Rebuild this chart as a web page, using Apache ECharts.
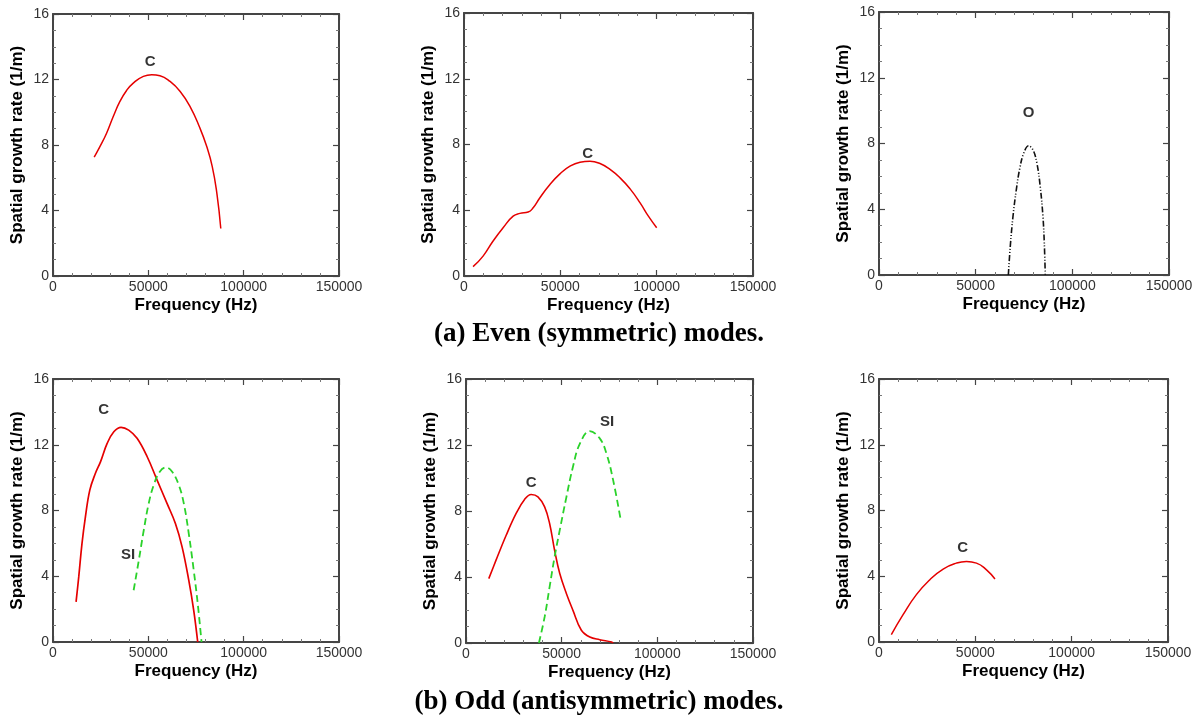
<!DOCTYPE html>
<html>
<head>
<meta charset="utf-8">
<script src="https://cdn.jsdelivr.net/npm/echarts@6/dist/echarts.min.js"></script>
<style>
html,body{margin:0;padding:0;background:#fff;}
#chart{width:1198px;height:719px;}
</style>
</head>
<body>
<div id="chart"></div>
<script>
// ---- axis settings (tick values) ----
const xTicks = [0, 50000, 100000, 150000];
const yTicks = [0, 4, 8, 12, 16];
const xAxisName = 'Frequency (Hz)';
const yAxisName = 'Spatial growth rate (1/m)';
const captionA = '(a) Even (symmetric) modes.';
const captionB = '(b) Odd (antisymmetric) modes.';

// ---- data: [frequency (Hz), spatial growth rate (1/m)] ----
// (a) Even modes, panel 1: C
const evenC1 = [[21600,7.26],[24600,7.9],[28100,8.72],[31600,9.74],[35100,10.66],[38600,11.33],[42100,11.78],[47400,12.19],[51800,12.29],[56100,12.23],[61400,11.88],[66700,11.27],[71900,10.35],[77000,9.05],[80500,7.95],[83500,6.7],[86000,5.0],[88000,2.9]];
// (a) Even modes, panel 2: C
const evenC2 = [[4700,0.57],[9900,1.21],[15100,2.13],[20300,2.94],[25500,3.64],[29000,3.81],[33300,3.89],[35900,4.15],[39400,4.76],[44600,5.57],[49800,6.21],[55000,6.68],[60200,6.92],[65400,6.98],[70600,6.84],[75800,6.48],[81000,5.97],[86200,5.3],[91400,4.45],[95700,3.64],[100000,2.94]];
// (a) Even modes, panel 3: O
const evenO3 = [[66900,0],[67900,1.74],[69300,3.56],[71000,5.17],[72800,6.48],[74800,7.39],[77400,7.86],[79700,7.6],[81700,6.79],[83400,5.37],[84800,3.56],[85500,1.94],[86000,0]];
// (b) Odd modes, panel 4: C and SI
const oddC4 = [[12100,2.44],[13500,3.96],[15200,5.99],[17000,7.61],[19300,9.24],[22200,10.25],[24900,10.96],[28400,12.08],[31900,12.79],[35700,13.06],[39700,12.89],[44100,12.39],[49400,11.27],[54600,9.85],[59800,8.43],[64200,7.21],[67700,5.79],[71200,3.76],[73800,1.93],[75900,0]];
const oddSI4 = [[42300,3.15],[45000,4.97],[47600,6.8],[50200,8.43],[52800,9.54],[56000,10.36],[59300,10.62],[62500,10.36],[66000,9.54],[68600,8.43],[71200,6.6],[73800,4.37],[75900,2.34],[77900,0]];
// (b) Odd modes, panel 5: C and SI
const oddC5 = [[11900,3.9],[15700,5.02],[21000,6.53],[26200,7.85],[30600,8.7],[34100,9.0],[37600,8.86],[41100,8.25],[43700,7.24],[46300,5.62],[49000,4.21],[52500,2.99],[55900,1.98],[60300,0.77],[64700,0.36],[69900,0.2],[76100,0.06],[76900,0]];
const oddSI5 = [[38100,0],[41100,1.58],[43700,3.4],[46300,5.22],[49000,6.84],[52500,8.86],[55900,10.68],[59400,12.05],[64700,12.84],[69900,12.4],[73400,11.49],[76900,9.87],[80900,7.44]];
// (b) Odd modes, panel 6: C
const oddC6 = [[6400,0.45],[12500,1.66],[19400,2.88],[26400,3.79],[33300,4.44],[40200,4.8],[45400,4.9],[50600,4.8],[55800,4.39],[60200,3.83]];

// ---- curve annotations: [frequency, growth rate, text] ----
const labels1 = [[50900,13.1,'C']];
const labels2 = [[64200,7.45,'C']];
const labels3 = [[77400,9.85,'O']];
const labels4 = [[26600,14.15,'C'],[39400,5.3,'SI']];
const labels5 = [[34100,9.7,'C'],[73800,13.4,'SI']];
const labels6 = [[43400,5.7,'C']];

// ---- layout ----
const grids = [
  {left:53, top:14, width:286, height:262},
  {left:464, top:13, width:289, height:263},
  {left:879, top:12, width:290, height:263},
  {left:53, top:379, width:286, height:263},
  {left:466, top:379, width:287, height:264},
  {left:879, top:379, width:289, height:263}
];

const axisColor = '#454545';
const font = 'Liberation Sans, Arial, sans-serif';

function xAx(i, pos) {
  const bottom = pos === 'bottom';
  return {
    type:'value', gridIndex:i, position:pos,
    min:xTicks[0], max:xTicks[xTicks.length-1], interval:xTicks[1]-xTicks[0],
    axisLine:{show:true, onZero:false, lineStyle:{color:axisColor, width:2}},
    axisTick:{show:true, inside:true, length:6, lineStyle:{color:axisColor, width:1.2}},
    minorTick:{show:true, splitNumber:5, length:3, lineStyle:{color:'#777', width:1}},
    splitLine:{show:false},
    axisLabel:{show:bottom, color:'#333', fontSize:14, fontFamily:font, margin:4,
      formatter: v => String(v)},
    name: bottom ? xAxisName : '',
    nameLocation:'middle', nameGap:21,
    nameTextStyle:{color:'#000', fontSize:17, fontWeight:'bold', fontFamily:font}
  };
}
function yAx(i, pos) {
  const left = pos === 'left';
  return {
    type:'value', gridIndex:i, position:pos,
    min:yTicks[0], max:yTicks[yTicks.length-1], interval:yTicks[1]-yTicks[0],
    axisLine:{show:true, onZero:false, lineStyle:{color:axisColor, width:2}},
    axisTick:{show:true, inside:true, length:6, lineStyle:{color:axisColor, width:1.2}},
    minorTick:{show:true, splitNumber:4, length:3, lineStyle:{color:'#777', width:1}},
    splitLine:{show:false},
    axisLabel:{show:left, color:'#333', fontSize:14, fontFamily:font, margin:4,
      formatter: v => String(v)},
    name: left ? yAxisName : '',
    nameLocation:'middle', nameGap:27,
    nameTextStyle:{color:'#000', fontSize:17, fontWeight:'bold', fontFamily:font}
  };
}

const xAxes = [], yAxes = [];
grids.forEach((g, i) => {
  xAxes.push(xAx(i, 'bottom'));
  yAxes.push(yAx(i, 'left'));
});
grids.forEach((g, i) => {
  xAxes.push(xAx(i, 'top'));
  yAxes.push(yAx(i, 'right'));
});

const red = '#e50000', green = '#2ad22a', black = '#111';
function curve(i, data, color, type, width, smooth) {
  return {
    type:'line', xAxisIndex:i, yAxisIndex:i, data:data,
    showSymbol:false, symbol:'none', smooth: smooth == null ? 0.5 : smooth,
    lineStyle:{color:color, width:width || 1.5, type:type || 'solid'},
    silent:true, animation:false, z:3
  };
}
function labelSeries(i, arr) {
  return {
    type:'scatter', xAxisIndex:i, yAxisIndex:i, symbolSize:0,
    data: arr.map(d => ({value:[d[0], d[1]], name:d[2]})),
    label:{show:true, position:'inside', formatter:'{b}', color:'#000',
      fontSize:15, fontWeight:'bold', fontFamily:font},
    silent:true, animation:false, z:5
  };
}

const series = [
  curve(0, evenC1, red),
  labelSeries(0, labels1),
  curve(1, evenC2, red),
  labelSeries(1, labels2),
  curve(2, evenO3, black, [6,2,1,2,1,2], 1.6, 0.4),
  labelSeries(2, labels3),
  curve(3, oddC4, red, 'solid', 1.7, 0.4),
  curve(3, oddSI4, green, [7,4], 1.8, 0.4),
  labelSeries(3, labels4),
  curve(4, oddC5, red, 'solid', 1.6, 0.4),
  curve(4, oddSI5, green, [7,4], 1.8, 0.4),
  labelSeries(4, labels5),
  curve(5, oddC6, red),
  labelSeries(5, labels6)
];

const chart = echarts.init(document.getElementById('chart'), null, {renderer:'canvas'});
chart.setOption({
  backgroundColor:'#fff',
  animation:false,
  grid: grids.map(g => Object.assign({containLabel:false}, g)),
  xAxis: xAxes,
  yAxis: yAxes,
  series: series,
  graphic: [
    {type:'text', left:'center', top:321, style:{text:captionA, fill:'#000',
      font:'bold 27px "Liberation Serif", "Times New Roman", serif'}},
    {type:'text', left:'center', top:689, style:{text:captionB, fill:'#000',
      font:'bold 27px "Liberation Serif", "Times New Roman", serif'}}
  ]
});
</script>
</body>
</html>
